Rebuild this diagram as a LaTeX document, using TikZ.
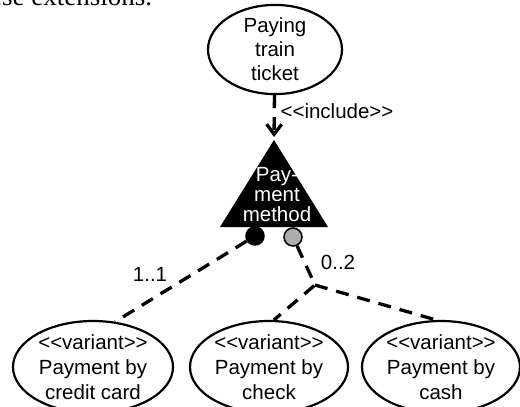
\documentclass[tikz,border=0pt]{standalone}
\usepackage{fontspec}
\setmainfont{Liberation Sans}
\newfontfamily\bodyserif{Liberation Serif}
\usetikzlibrary{shapes.geometric,arrows.meta}
\begin{document}
\begin{tikzpicture}[x=1pt,y=-1pt,
  usecase/.style={draw,ellipse,line width=2.2pt,inner sep=0pt,align=center},
  dashconn/.style={line width=3.3pt,dash pattern=on 13pt off 9pt},
  lbl/.style={font=\fontsize{20.5}{24}\selectfont,inner sep=0pt},
  port/.style={circle,draw,line width=1.5pt,minimum size=18pt,inner sep=0pt},
]
\useasboundingbox (0,0) rectangle (520,407);
\clip (0,0) rectangle (520,407);
\node[anchor=base west,inner sep=0pt,font=\bodyserif\fontsize{27}{30}\selectfont] (prev) at (-31,5) {these extensions.};
\node[usecase,minimum width=134pt,minimum height=81pt,font=\fontsize{20.5}{24}\selectfont] (pay) at (275,49.5) {Paying\\train\\ticket};
\fill (274,140) -- (220,227) -- (328,227) -- cycle;
\coordinate (apex) at (274,137);
\node[text=white,align=center,inner sep=0pt,font=\fontsize{20.5}{20}\selectfont] (pm) at (277,195) {Pay-\\ment\\method};
\draw[dashconn,-{Straight Barb[length=10pt,width=15pt]}] (pay) -- (apex);
\node[lbl] (inc) at (337,111) {<{}<include>{}>};
\node[port,fill=black] (c1) at (255,236) {};
\node[port,fill=black!32] (c2) at (293,237) {};
\coordinate (j) at (315,285);
\node[usecase,minimum width=160pt,minimum height=78pt,font=\fontsize{20.5}{25}\selectfont] (v1) at (93,367) {<{}<variant>{}>\\Payment by\\credit card};
\node[usecase,minimum width=158pt,minimum height=78pt,font=\fontsize{20.5}{25}\selectfont] (v2) at (269,367) {<{}<variant>{}>\\Payment by\\check};
\node[usecase,minimum width=158pt,minimum height=78pt,font=\fontsize{20.5}{25}\selectfont] (v3) at (441,367) {<{}<variant>{}>\\Payment by\\cash};
\draw[dashconn] (c1) -- (v1.64);
\draw[dashconn] (c2) -- (j) -- (v2.84);
\draw[dashconn] (j) -- (v3.96);
\node[lbl] (m1) at (150,274) {1..1};
\node[lbl] (m2) at (338,262) {0..2};
\end{tikzpicture}
\end{document}
